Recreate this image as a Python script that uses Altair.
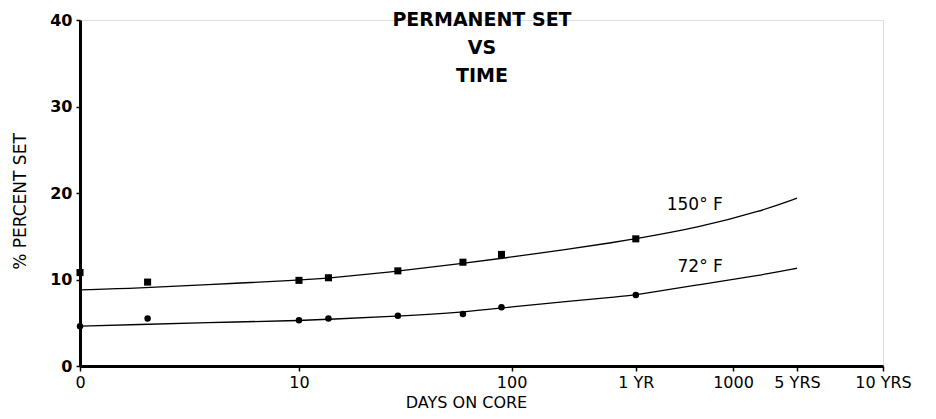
import altair as alt
import pandas as pd

# measured points (days on core, % permanent set)
point_days = [0, 1.2, 10, 14, 30, 60, 90, 365]
set_150 = [10.8, 9.7, 9.9, 10.2, 11.0, 12.0, 12.9, 14.7]
set_72 = [4.6, 5.5, 5.3, 5.5, 5.8, 6.0, 6.8, 8.2]

# fitted curves
curve_days = [0, 1, 3, 10, 14, 30, 60, 100, 170, 300, 365, 700, 1300, 1825]
curve_150 = [8.8, 9.0, 9.4, 9.9, 10.15, 10.95, 11.85, 12.6, 13.4, 14.35, 14.7, 16.0, 17.9, 19.4]
curve_72 = [4.6, 4.8, 5.0, 5.25, 5.4, 5.75, 6.2, 6.85, 7.4, 8.0, 8.2, 9.4, 10.5, 11.3]

series_names = ["150° F", "72° F"]
label_days = [900, 900]
label_vals = [18.6, 11.45]

tick_values = [0, 10, 100, 365, 1000, 1825, 3650]
tick_labels = ["0", "10", "100", "1 YR", "1000", "5 YRS", "10 YRS"]
y_ticks = [0, 10, 20, 30, 40]
title_lines = ["PERMANENT SET", "VS", "TIME"]

W, H = 803, 346
# piecewise symlog scale (the original axis is hand-spaced)
scale_knots = [0, 10, 1000, 1825, 3650]
knot_frac = [0, 0.2727, 0.8132, 0.8929, 1.0]

pts = pd.DataFrame(
    [{"days": d, "val": v, "series": "150° F"} for d, v in zip(point_days, set_150)]
    + [{"days": d, "val": v, "series": "72° F"} for d, v in zip(point_days, set_72)]
)
curves = pd.DataFrame(
    [{"days": d, "val": v, "series": "150° F"} for d, v in zip(curve_days, curve_150)]
    + [{"days": d, "val": v, "series": "72° F"} for d, v in zip(curve_days, curve_72)]
)
labels = pd.DataFrame({"days": label_days, "val": label_vals, "text": series_names})

label_expr = " : ".join(
    f"datum.value == {v} ? '{t}'" for v, t in zip(tick_values, tick_labels)
) + " : datum.label"

xscale = alt.Scale(type="symlog", constant=1.22, domain=scale_knots,
                   range=[f * W for f in knot_frac], nice=False, zero=False)
yscale = alt.Scale(domain=[0, 40], nice=False)

FONT = "DejaVu Sans"

x_enc = alt.X("days:Q", scale=xscale,
              axis=alt.Axis(values=tick_values, labelExpr=label_expr,
                            title="DAYS ON CORE", grid=False,
                            domainWidth=3, domainColor="black",
                            tickColor="black", tickSize=5, tickWidth=1.5,
                            labelFont=FONT, labelFontSize=16, labelColor="black",
                            labelPadding=3, labelFlush=False, labelOverlap=False,
                            titleFont=FONT, titleFontSize=16, titleFontWeight="normal",
                            titleColor="black", titlePadding=4, titleX=386))
y_enc = alt.Y("val:Q", scale=yscale,
              axis=alt.Axis(values=y_ticks, title="% PERCENT SET", grid=False,
                            domainWidth=3, domainColor="black",
                            tickColor="black", tickSize=4, tickWidth=1.5,
                            labelFont=FONT, labelFontSize=16, labelFontWeight="bold",
                            labelColor="black", labelPadding=4,
                            titleFont=FONT, titleFontSize=17, titleFontWeight="normal",
                            titleColor="black", titlePadding=20, titleY=181))

lines = alt.Chart(curves).mark_line(color="black", strokeWidth=1.3,
                                    interpolate="basis", clip=False).encode(
    x=x_enc, y=y_enc, detail="series:N")

sq = alt.Chart(pts[pts.series == "150° F"]).mark_point(
    shape="square", filled=True, color="black", size=50, opacity=1).encode(
    x="days:Q", y="val:Q")
circ = alt.Chart(pts[pts.series == "72° F"]).mark_point(
    shape="circle", filled=True, color="black", size=42, opacity=1).encode(
    x="days:Q", y="val:Q")

lab = alt.Chart(labels).mark_text(font=FONT, fontSize=17, color="black",
                                  align="right", baseline="middle").encode(
    x="days:Q", y="val:Q", text="text:N")

title_df = pd.DataFrame({"t": ["\n".join(title_lines)]})
title = alt.Chart(title_df).mark_text(
    font=FONT, fontSize=19, fontWeight="bold", color="black",
    align="center", baseline="middle", lineBreak="\n", lineHeight=28).encode(
    x=alt.value(402), y=alt.value(0), text="t:N")

chart = alt.layer(lines, sq, circ, lab, title).properties(
    width=W, height=H,
    autosize=alt.AutoSizeParams(type="none"),
    padding={"left": 72, "top": 12, "right": 45, "bottom": 45},
).configure_view(stroke=None).configure(background="white")

chart.save("out.html", embed_options={"renderer": "svg", "actions": False})
